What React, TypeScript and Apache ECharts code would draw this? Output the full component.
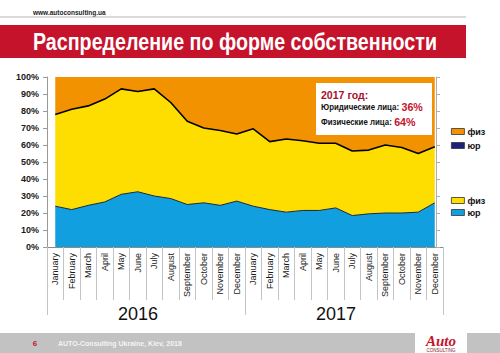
import React, { useEffect, useRef } from "react";
import * as echarts from "echarts";

const months = [
  "January", "February", "March", "April", "May", "June",
  "July", "August", "September", "October", "November", "December",
];
const categories = [...months, ...months];
const years = ["2016", "2017"];

// lower stack: legal entities (blue)
const yurShare = [24, 22, 24.5, 26.5, 31, 32.5, 30, 28.5, 25, 26, 24.5, 27, 24, 22, 20.5, 21.5, 21.5, 23, 18.5, 19.5, 20, 20, 20.5, 26];
// middle stack: private persons (yellow)
const fizShare = [54, 59, 58.5, 60.5, 62, 59, 63, 56.5, 49, 44, 44, 39.5, 45.5, 40, 43, 41, 39.5, 38, 38, 37.5, 40, 38.5, 34.5, 33];
// top stack: private persons (orange)
const fizTopShare = [22, 19, 17, 13, 7, 8.5, 7, 15, 26, 30, 31.5, 33.5, 30.5, 38, 36.5, 37.5, 39, 39, 43.5, 43, 40, 41.5, 45, 41];

const titleText = "Распределение по форме собственности";
const siteText = "www.autoconsulting.ua";
const footerText = "AUTO-Consulting Ukraine, Kiev, 2018";
const pageNo = "6";
const noteYear = "2017 год:";
const noteYurLabel = "Юридические лица: ";
const noteYurValue = "36%";
const noteFizLabel = "Физические лица: ";
const noteFizValue = "64%";

const BLUE = "#129fe0";
const YELLOW = "#fedd00";
const ORANGE = "#f39200";
const NAVY = "#20207a";
const RED = "#c6132c";
const FONT = "'Liberation Sans', Arial, sans-serif";

export default function App() {
  const ref = useRef<HTMLDivElement>(null);
  useEffect(() => {
    const chart = echarts.init(ref.current!, null, { renderer: "svg" });
    const legendCommon = {
      orient: "vertical" as const,
      left: 446,
      icon: "rect",
      itemWidth: 13,
      itemHeight: 6,
      formatter: (name: string) => name.split("_")[0],
      textStyle: { fontSize: 9, fontWeight: "bold", color: "#111", fontFamily: FONT, padding: [0, 0, 0, -2] },
      itemStyle: { borderColor: "#333", borderWidth: 0.8 },
      selectedMode: false,
    };
    const noteRich = {
      l: { fontSize: 8.5, fontWeight: "bold", fill: "#111", fontFamily: FONT },
      v: { fontSize: 11.5, fontWeight: "bold", fill: "#c6132c", fontFamily: FONT },
    };
    chart.setOption({
      animation: false,
      backgroundColor: "#ffffff",
      textStyle: { fontFamily: FONT },
      grid: { left: 47, top: 77, width: 396, height: 170, containLabel: false },
      legend: [
        { ...legendCommon, top: 122, itemGap: 5, data: ["физ_o", "юр_n"] },
        { ...legendCommon, top: 191, itemGap: 3, data: ["физ_y", "юр_b"] },
      ],
      xAxis: [
        {
          type: "category",
          data: categories,
          boundaryGap: true,
          axisLine: { show: true, lineStyle: { color: "#8a8a8a", width: 1 } },
          axisTick: { show: true, interval: 0, length: 53, lineStyle: { color: "#c4c4c4" } },
          axisLabel: { interval: 0, rotate: 90, fontSize: 9, color: "#1a1a1a", margin: 6, fontFamily: FONT },
          splitLine: { show: false },
        },
        {
          type: "category",
          data: years,
          position: "bottom",
          boundaryGap: true,
          axisLine: { show: false },
          axisTick: { show: true, interval: 0, length: 68, lineStyle: { color: "#c4c4c4" } },
          axisLabel: { interval: 0, fontSize: 18, color: "#111", margin: 58, padding: [0, 16, 0, 0], fontFamily: FONT },
          splitLine: { show: false },
        },
      ],
      yAxis: [
        {
          type: "value",
          min: 0,
          max: 100,
          interval: 10,
          axisLine: { show: true, lineStyle: { color: "#9a9a9a" } },
          axisTick: { show: true, length: 4, lineStyle: { color: "#9a9a9a" } },
          axisLabel: { formatter: "{value}%", fontSize: 9, fontWeight: "bold", color: "#1a1a1a", margin: 8, fontFamily: FONT },
          splitLine: { show: false },
        },
        {
          type: "value",
          position: "right",
          offset: -7,
          min: 0,
          max: 100,
          interval: 10,
          axisLine: { show: true, lineStyle: { color: "#b0b0b0" } },
          axisTick: { show: true, length: 4, lineStyle: { color: "#b0b0b0" } },
          axisLabel: { show: false },
          splitLine: { show: false },
        },
      ],
      series: [
        {
          name: "юр_b",
          type: "line",
          stack: "total",
          data: yurShare,
          symbol: "none",
          z: 4,
          itemStyle: { color: BLUE },
          lineStyle: { color: "#1b2a3a", width: 1 },
          areaStyle: { color: BLUE, opacity: 1 },
        },
        {
          name: "физ_y",
          type: "line",
          stack: "total",
          data: fizShare,
          symbol: "none",
          z: 3,
          itemStyle: { color: YELLOW },
          lineStyle: { color: "#000", width: 1.6 },
          areaStyle: { color: YELLOW, opacity: 1 },
        },
        {
          name: "физ_o",
          type: "line",
          stack: "total",
          data: fizTopShare,
          symbol: "none",
          z: 2,
          itemStyle: { color: ORANGE },
          lineStyle: { width: 0, color: ORANGE },
          areaStyle: { color: ORANGE, opacity: 1 },
        },
        {
          name: "юр_n",
          type: "line",
          data: [],
          symbol: "none",
          itemStyle: { color: NAVY },
          lineStyle: { color: NAVY },
        },
      ],
      graphic: [
        { type: "text", left: 33, top: 9, style: { text: siteText, fontSize: 6.5, fontWeight: "bold", fill: "#222", fontFamily: FONT } },
        { type: "line", shape: { x1: 0, y1: 17, x2: 466, y2: 17 }, style: { stroke: "#b5b5b5", lineWidth: 1 } },
        { type: "rect", shape: { x: 0, y: 25, width: 466, height: 33 }, style: { fill: RED } },
        {
          type: "text",
          x: 33,
          y: 41.5,
          scaleX: 0.82,
          style: {
            text: titleText,
            fontSize: 24,
            fontWeight: "bold",
            fill: "#fff",
            fontFamily: FONT,
            verticalAlign: "middle",
          },
        },
        // annotation box
        { type: "rect", z: 10, shape: { x: 316, y: 83, width: 116, height: 52 }, style: { fill: "#fff" } },
        {
          type: "text",
          z: 11,
          x: 321,
          y: 95,
          scaleX: 0.92,
          style: { text: noteYear, fontSize: 11.5, fontWeight: "bold", fill: "#a8102c", fontFamily: FONT, verticalAlign: "middle" },
        },
        {
          type: "text",
          z: 11,
          x: 321,
          y: 107,
          scaleX: 0.93,
          style: { text: `{l|${noteYurLabel}}{v|${noteYurValue}}`, verticalAlign: "middle", rich: noteRich },
        },
        {
          type: "text",
          z: 11,
          x: 321,
          y: 122,
          scaleX: 0.93,
          style: { text: `{l|${noteFizLabel}}{v|${noteFizValue}}`, verticalAlign: "middle", rich: noteRich },
        },
        // footer
        { type: "rect", shape: { x: 0, y: 333, width: 415, height: 20 }, style: { fill: "#c2c2c2" } },
        { type: "rect", shape: { x: 467, y: 333, width: 33, height: 20 }, style: { fill: "#c2c2c2" } },
        {
          type: "text",
          x: 35,
          y: 343,
          style: { text: pageNo, fontSize: 8, fontWeight: "bold", fill: "#c6132c", fontFamily: FONT, align: "center", verticalAlign: "middle" },
        },
        {
          type: "text",
          x: 58,
          y: 343,
          style: { text: footerText, fontSize: 7, fontWeight: "bold", fill: "#f4f4f4", fontFamily: FONT, verticalAlign: "middle" },
        },
        {
          type: "text",
          x: 441,
          y: 341,
          style: {
            text: "Auto",
            fontSize: 15,
            fontWeight: "bold",
            fontStyle: "italic",
            fill: RED,
            fontFamily: "'Liberation Serif', serif",
            align: "center",
            verticalAlign: "middle",
          },
        },
        {
          type: "text",
          x: 441,
          y: 350,
          style: { text: "CONSULTING", fontSize: 4.5, fill: "#7a1a2a", fontFamily: FONT, align: "center", verticalAlign: "middle" },
        },
      ],
    });
    return () => chart.dispose();
  }, []);
  return (
    <div
      ref={ref}
      style={{ position: "fixed", left: 0, top: 0, width: 500, height: 353, background: "#fff" }}
    />
  );
}
